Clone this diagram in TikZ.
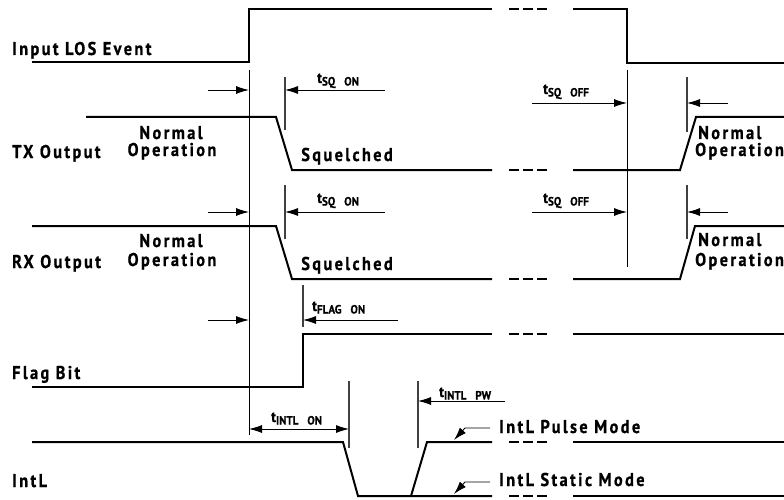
\documentclass[tikz,border=0pt]{standalone}
\usepackage{fontspec}
\newfontfamily\lblfont{PT Sans}[UprightFont={* Bold},LetterSpace=13,FakeStretch=0.88,FakeBold=0.8]
\newfontfamily\subfont{PT Sans}[UprightFont={* Bold},LetterSpace=0,FakeStretch=0.92,FakeBold=0.6]
\usetikzlibrary{arrows.meta}
\newcommand\tsub[2]{{\subfont\fontsize{15}{15}\selectfont t\raisebox{-2.5pt}{\fontsize{12}{12}\selectfont #1\hspace{9pt}#2}}}
\begin{document}
\begin{tikzpicture}[x=1pt,y=-1pt,
  wave/.style={line width=2pt,line join=miter},
  dashwave/.style={line width=2pt,dash pattern=on 10pt off 4pt},
  vline/.style={line width=0.9pt},
  tickline/.style={line width=1.1pt,black!75},
  arr/.style={line width=0.9pt,-{Latex[length=13pt,width=8pt]}},
  darr/.style={line width=0.9pt,{Latex[length=13pt,width=8pt]}-{Latex[length=13pt,width=8pt]}},
  lbl/.style={font=\lblfont\fontsize{18.5}{18.5}\selectfont,inner sep=0pt},
  tlbl/.style={inner sep=0pt}]
\useasboundingbox (0,0) rectangle (784,500);
% ---------- Input LOS Event ----------
\draw[wave] (32,62) -- (249,62) -- (249,9) -- (492,9);
\draw[dashwave] (509,9) -- (547,9);
\draw[wave] (573,9) -- (627,9) -- (627,63) -- (784,63);
\node[lbl,anchor=base west] (lLOS) at (12,55) {Input LOS Event};
% reference verticals
\coordinate (v1t) at (249,70); \coordinate (v1b) at (249,435);
\draw[vline] (v1t) -- (v1b);
\coordinate (v2t) at (627,70); \coordinate (v2b) at (627,267);
\draw[vline] (v2t) -- (v2b);
% ---------- TX Output ----------
\draw[wave] (86,117) -- (276,117) -- (292,170) -- (492,170);
\draw[dashwave] (509,170) -- (547,170);
\draw[wave] (573,170) -- (680,170) -- (696,117) -- (784,117);
\node[lbl,anchor=base west] (lTX) at (12,158) {TX Output};
\node[lbl,anchor=base] (lTXn) at (171,139) {Normal};
\node[lbl,anchor=base] (lTXo) at (172,156) {Operation};
\node[lbl,anchor=base] (lTXs) at (347,161) {Squelched};
\node[lbl,anchor=base west] (lTXn2) at (698,139) {Normal};
\node[lbl,anchor=base west] (lTXo2) at (695,156) {Operation};
\draw[tickline] (285,77) -- (285,130);
\draw[tickline] (687,77) -- (687,132);
\coordinate (a1) at (208,90); \coordinate (a1e) at (249,90);
\draw[arr] (a1) -- (a1e);
\coordinate (a2) at (385,90); \coordinate (a2e) at (285,90);
\draw[arr] (a2) -- (a2e);
\coordinate (a3) at (532,103); \coordinate (a3e) at (627,103);
\draw[arr] (a3) -- (a3e);
\coordinate (a4) at (728,103); \coordinate (a4e) at (687,103);
\draw[arr] (a4) -- (a4e);
\node[tlbl,anchor=base west] (tTX1) at (317,83) {\tsub{SQ}{ON}};
\node[tlbl,anchor=base west] (tTX2) at (543,94) {\tsub{SQ}{OFF}};
% ---------- RX Output ----------
\draw[wave] (32,226) -- (276,226) -- (292,279) -- (492,279);
\draw[dashwave] (509,279) -- (547,279);
\draw[wave] (573,279) -- (680,279) -- (695,226) -- (784,226);
\node[lbl,anchor=base west] (lRX) at (12,268) {RX Output};
\node[lbl,anchor=base] (lRXn) at (171,247) {Normal};
\node[lbl,anchor=base] (lRXo) at (172,266) {Operation};
\node[lbl,anchor=base] (lRXs) at (347,270) {Squelched};
\node[lbl,anchor=base west] (lRXn2) at (698,246) {Normal};
\node[lbl,anchor=base west] (lRXo2) at (695,266) {Operation};
\draw[tickline] (285,185) -- (285,239);
\draw[tickline] (687,185) -- (687,239);
\coordinate (b1) at (208,212); \coordinate (b1e) at (249,212);
\draw[arr] (b1) -- (b1e);
\coordinate (b2) at (385,212); \coordinate (b2e) at (285,212);
\draw[arr] (b2) -- (b2e);
\coordinate (b3) at (532,212); \coordinate (b3e) at (627,212);
\draw[arr] (b3) -- (b3e);
\coordinate (b4) at (728,212); \coordinate (b4e) at (687,212);
\draw[arr] (b4) -- (b4e);
\node[tlbl,anchor=base west] (tRX1) at (317,203) {\tsub{SQ}{ON}};
\node[tlbl,anchor=base west] (tRX2) at (543,203) {\tsub{SQ}{OFF}};
% ---------- Flag Bit ----------
\draw[wave] (32,387) -- (303,387) -- (303,334) -- (492,334);
\draw[dashwave] (509,334) -- (547,334);
\draw[wave] (573,334) -- (784,334);
\node[lbl,anchor=base west] (lFlag) at (12,379) {Flag Bit};
\draw[tickline] (303,285) -- (303,327);
\coordinate (c1) at (208,320); \coordinate (c1e) at (249,320);
\draw[arr] (c1) -- (c1e);
\coordinate (c2) at (398,320); \coordinate (c2e) at (303,320);
\draw[arr] (c2) -- (c2e);
\node[tlbl,anchor=base west] (tFL) at (312,311) {\tsub{FLAG}{ON}};
% ---------- IntL ----------
\draw[wave] (32,442) -- (343,442) -- (358,496) -- (492,496);
\draw[dashwave] (509,496) -- (547,496);
\draw[wave] (573,496) -- (784,496);
\draw[wave] (411,496) -- (427,442) -- (492,442);
\draw[dashwave] (509,442) -- (547,442);
\draw[wave] (573,442) -- (784,442);
\node[lbl,anchor=base west] (lIntL) at (12,487) {IntL};
\draw[tickline] (349,381) -- (349,448);
\draw[tickline] (418,381) -- (418,448);
\coordinate (d1) at (249,429); \coordinate (d1e) at (349,429);
\draw[darr] (d1) -- (d1e);
\node[tlbl,anchor=base west] (tIN1) at (271,422) {\tsub{INTL}{ON}};
\coordinate (d2) at (505,401); \coordinate (d2e) at (418,401);
\draw[arr] (d2) -- (d2e);
\node[tlbl,anchor=base west] (tIN2) at (439,397) {\tsub{INTL}{PW}};
\node[lbl,anchor=base west] (lPulse) at (499,433) {IntL Pulse Mode};
\node[lbl,anchor=base west] (lStatic) at (499,486) {IntL Static Mode};
\coordinate (p1) at (490,428); \coordinate (p2) at (465,428); \coordinate (p3) at (454,440);
\draw[arr] (p1) -- (p2) -- (p3);
\coordinate (s1) at (490,482); \coordinate (s2) at (465,482); \coordinate (s3) at (454,494);
\draw[arr] (s1) -- (s2) -- (s3);
\end{tikzpicture}
\end{document}
